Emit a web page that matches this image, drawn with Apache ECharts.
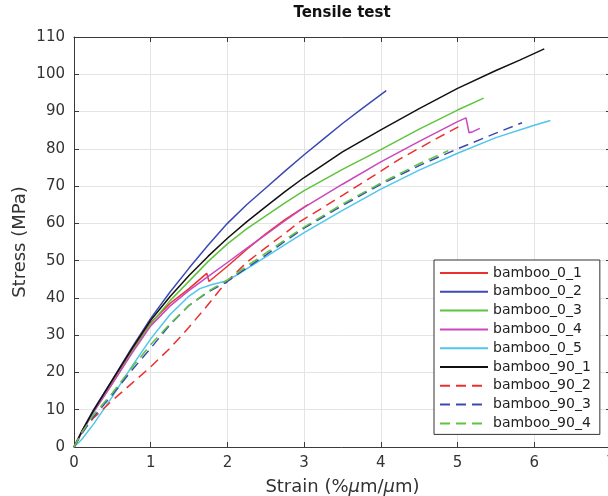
<!DOCTYPE html>
<html>
<head>
<meta charset="utf-8">
<script src="https://cdn.jsdelivr.net/npm/echarts@6/dist/echarts.min.js"></script>
<style>
  html, body { margin: 0; padding: 0; background: #ffffff; }
  #chart { width: 608px; height: 496px; }
</style>
</head>
<body>
<div id="chart"></div>
<script>
// Tensile test curves: strain (%) vs stress (MPa) for each bamboo specimen
const seriesNames = ['bamboo_0_1', 'bamboo_0_2', 'bamboo_0_3', 'bamboo_0_4', 'bamboo_0_5',
                     'bamboo_90_1', 'bamboo_90_2', 'bamboo_90_3', 'bamboo_90_4'];

const strain_0_1 = [0, 0.1, 0.25, 0.5, 0.75, 1, 1.25, 1.5, 1.73, 1.76, 2, 2.25, 2.5, 2.75, 3.05];
const stress_0_1 = [0, 4, 9.5, 17.5, 25.8, 33.3, 38.5, 42.5, 46.6, 44.4, 48.5, 53, 57.2, 61, 65];

const strain_0_2 = [0, 0.1, 0.25, 0.5, 0.75, 1, 1.25, 1.5, 1.75, 2, 2.25, 2.5, 2.75, 3, 3.25, 3.5, 3.75, 4.07];
const stress_0_2 = [0, 4.2, 9.8, 18, 26.5, 34.5, 41.5, 48, 54.2, 60, 65, 69.5, 74, 78.4, 82.6, 86.8, 90.7, 95.6];

const strain_0_3 = [0, 0.1, 0.25, 0.5, 0.75, 1, 1.25, 1.5, 1.75, 2, 2.25, 2.5, 2.75, 3, 3.5, 4, 4.5, 5, 5.34];
const stress_0_3 = [0, 3.9, 9.2, 17, 25.3, 33, 39.2, 44.5, 49.8, 54.5, 58.5, 62, 65.5, 68.8, 74.5, 79.8, 85.3, 90.4, 93.6];

const strain_0_4 = [0, 0.1, 0.25, 0.5, 0.75, 1, 1.25, 1.5, 1.75, 2, 2.25, 2.5, 2.75, 3, 3.5, 4, 4.5, 5, 5.11, 5.15, 5.2, 5.29];
const stress_0_4 = [0, 3.9, 9.2, 17, 25, 32.5, 37.8, 42, 45.8, 49.5, 53.3, 57, 60.7, 64.3, 70.5, 76.5, 82, 87.3, 88.3, 84.3, 84.6, 85.5];

const strain_0_5 = [0, 0.1, 0.25, 0.5, 0.75, 1, 1.25, 1.5, 1.64, 1.8, 2, 2.25, 2.5, 2.75, 3, 3.5, 4, 4.5, 5, 5.5, 6, 6.21];
const stress_0_5 = [0, 2, 6, 13.5, 21.5, 29, 35.5, 40.5, 42.5, 43.6, 44.6, 47.8, 51, 54.3, 57.5, 63.5, 69.2, 74.3, 78.8, 83, 86.3, 87.6];

const strain_90_1 = [0, 0.1, 0.25, 0.5, 0.75, 1, 1.25, 1.5, 1.75, 2, 2.25, 2.5, 2.75, 3, 3.5, 4, 4.5, 5, 5.5, 5.81, 6.13];
const stress_90_1 = [0, 4.1, 9.6, 18, 26.2, 34, 40.3, 46, 51.2, 56, 60.4, 64.5, 68.5, 72.3, 79.2, 85.1, 90.8, 96.2, 101, 103.8, 106.8];

const strain_90_2 = [0, 0.1, 0.25, 0.5, 0.75, 1, 1.25, 1.43, 1.7, 1.9, 2, 2.25, 2.5, 2.75, 2.94, 3.5, 4, 4.25, 4.73, 5.01];
const stress_90_2 = [0, 4, 7.7, 12.5, 17, 21.5, 26.5, 30.5, 37, 42.1, 44.5, 49.5, 53.5, 57.3, 60.4, 67.5, 74, 77.3, 82.8, 85.9];

const strain_90_3 = [0, 0.1, 0.25, 0.5, 0.75, 1, 1.25, 1.5, 1.75, 2, 2.25, 2.5, 2.75, 3, 3.5, 4, 4.5, 5, 5.5, 5.84];
const stress_90_3 = [0, 3.5, 8, 14, 20.5, 26.5, 32.8, 38, 41.6, 44.4, 48, 51.5, 55.2, 58.7, 64.8, 70.5, 75.5, 80, 84.2, 87];

const strain_90_4 = [0, 0.1, 0.25, 0.5, 0.75, 1, 1.25, 1.5, 1.75, 2, 2.25, 2.5, 2.75, 3, 3.5, 4, 4.5, 4.88];
const stress_90_4 = [0, 3.8, 8.5, 14.5, 21.2, 27.5, 33, 38, 41.8, 44.8, 48.5, 52, 55.6, 59, 65.2, 70.8, 76, 79.5];

const xTicks = [0, 1, 2, 3, 4, 5, 6, 7];
const yTicks = [0, 10, 20, 30, 40, 50, 60, 70, 80, 90, 100, 110];

const strains = [strain_0_1, strain_0_2, strain_0_3, strain_0_4, strain_0_5,
                 strain_90_1, strain_90_2, strain_90_3, strain_90_4];
const stresses = [stress_0_1, stress_0_2, stress_0_3, stress_0_4, stress_0_5,
                  stress_90_1, stress_90_2, stress_90_3, stress_90_4];

const colors = ['#ee2f2f', '#3b4ab3', '#5ec43e', '#c948bd', '#4fc6ea',
                '#111111', '#ee2f2f', '#3b4ab3', '#5ec43e'];
const dashed = [false, false, false, false, false, false, true, true, true];

const FONT = 'DejaVu Sans';
const AXIS_COLOR = '#3a3a3a';
const TEXT_COLOR = '#333333';

const chart = echarts.init(document.getElementById('chart'), null, { renderer: 'canvas' });

const series = seriesNames.map((name, i) => ({
  name: name,
  type: 'line',
  xAxisIndex: 0,
  yAxisIndex: 0,
  data: strains[i].map((x, k) => [x, stresses[i][k]]),
  showSymbol: false,
  symbol: 'none',
  smooth: false,
  lineStyle: {
    color: colors[i],
    width: 1.5,
    type: dashed[i] ? [10, 6] : 'solid'
  },
  itemStyle: { color: colors[i] },
  emphasis: { disabled: true },
  animation: false
}));

const baseX = {
  type: 'value',
  min: xTicks[0],
  max: xTicks[xTicks.length - 1],
  interval: 1,
  axisLine: { show: true, onZero: false, lineStyle: { color: AXIS_COLOR, width: 1 } },
  axisTick: { show: true, inside: true, length: 5, lineStyle: { color: AXIS_COLOR } }
};
const baseY = {
  type: 'value',
  min: yTicks[0],
  max: yTicks[yTicks.length - 1],
  interval: 10,
  axisLine: { show: true, onZero: false, lineStyle: { color: AXIS_COLOR, width: 1 } },
  axisTick: { show: true, inside: true, length: 5, lineStyle: { color: AXIS_COLOR } }
};

const option = {
  backgroundColor: '#ffffff',
  animation: false,
  color: colors,
  title: {
    text: 'Tensile test',
    left: 337,
    top: 1,
    textAlign: 'center',
    textStyle: { fontFamily: FONT, fontSize: 15, fontWeight: 'bold', color: '#111111' }
  },
  grid: { left: 74, top: 37, width: 537, height: 410, containLabel: false, outerBoundsMode: 'none' },
  legend: {
    orient: 'vertical',
    left: 434,
    top: 260,
    padding: [6, 9, 4, 5],
    itemWidth: 48,
    itemHeight: 14,
    itemGap: 4.8,
    backgroundColor: '#ffffff',
    borderColor: '#333333',
    borderWidth: 1,
    borderRadius: 0,
    itemStyle: { opacity: 0 },
    textStyle: { fontFamily: FONT, fontSize: 14, color: '#222222' },
    data: seriesNames,
    selectedMode: false
  },
  xAxis: [
    Object.assign({}, baseX, {
      position: 'bottom',
      name: 'Strain (%{i|μ}m/{i|μ}m)',
      nameLocation: 'middle',
      nameGap: 31,
      nameTextStyle: {
        fontFamily: FONT, fontSize: 18, color: TEXT_COLOR,
        rich: { i: { fontFamily: FONT, fontSize: 18, fontStyle: 'italic', color: TEXT_COLOR } }
      },
      axisLabel: {
        show: true, margin: 9, fontFamily: FONT, fontSize: 15, color: TEXT_COLOR,
        showMaxLabel: true, showMinLabel: true,
        formatter: v => String(v)
      },
      splitLine: { show: true, lineStyle: { color: '#e4e4e4', width: 1 } }
    }),
    Object.assign({}, baseX, {
      position: 'top',
      axisLabel: { show: false },
      splitLine: { show: false }
    })
  ],
  yAxis: [
    Object.assign({}, baseY, {
      position: 'left',
      name: 'Stress (MPa)',
      nameLocation: 'middle',
      nameGap: 45,
      nameMoveOverlap: false,
      nameTextStyle: { fontFamily: FONT, fontSize: 18, color: TEXT_COLOR },
      axisLabel: {
        show: true, margin: 9, fontFamily: FONT, fontSize: 15, color: TEXT_COLOR,
        formatter: v => String(v)
      },
      splitLine: { show: true, lineStyle: { color: '#e4e4e4', width: 1 } }
    }),
    Object.assign({}, baseY, {
      position: 'right',
      axisLabel: { show: false },
      splitLine: { show: false }
    })
  ],
  series: series
};

chart.setOption(option);
</script>
</body>
</html>
